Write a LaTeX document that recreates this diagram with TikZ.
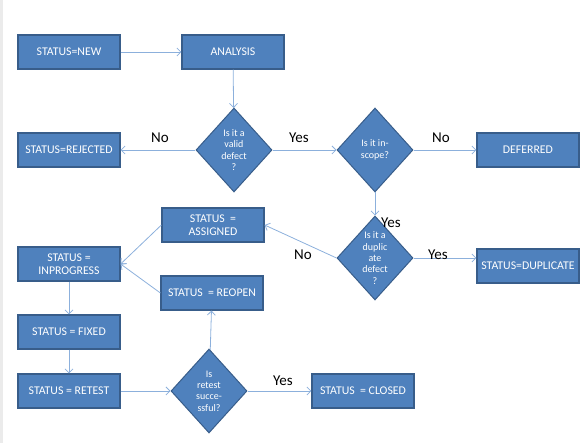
\documentclass[tikz,border=0pt]{standalone}
\usepackage{fontspec}
\setmainfont{Carlito}
\usetikzlibrary{shapes.geometric,arrows.meta}
\definecolor{boxfill}{RGB}{79,129,189}
\definecolor{boxline}{RGB}{56,93,138}
\definecolor{flowline}{RGB}{140,176,220}
\tikzset{
	statusbox/.style={draw=boxline, fill=boxfill, line width=1.2pt, minimum width=102pt, minimum height=34pt, text=white, font=\fontsize{11.8}{13.5}\selectfont, align=center, inner sep=1pt},
	decision/.style={diamond, draw=boxline, fill=boxfill, line width=1pt, minimum width=76pt, minimum height=84pt, inner sep=-5pt, text=white, font=\fontsize{10}{11.3}\selectfont, align=center},
	flow/.style={draw=flowline, line width=0.8pt, -{Straight Barb[length=4pt,width=8pt]}},
	lbl/.style={font=\fontsize{15}{17}\selectfont}
}
\begin{document}
\begin{tikzpicture}[x=1pt, y=-1pt]
\useasboundingbox (0, 0) rectangle (587, 443);
\fill[black!8] (0, 0) rectangle (2.5, 443);

\node[statusbox] (new) at (69, 52) {STATUS=NEW};
\node[statusbox] (analysis) at (233, 52) {ANALYSIS};
\node[decision] (valid) at (234, 150) {Is it a\\valid\\defect\\?};
\node[statusbox] (rejected) at (69, 150) {STATUS=REJECTED};
\node[decision] (scope) at (375, 150) {Is it in-\\scope?};
\node[statusbox] (deferred) at (528, 150) {DEFERRED};
\node[decision] (dup) at (375, 258) {Is it a\\duplic\\ate\\defect\\?};
\node[statusbox] (duplicate) at (528, 266) {STATUS=DUPLICATE};
\node[statusbox] (assigned) at (213, 225) {STATUS \ =\\ASSIGNED};
\node[statusbox] (inprog) at (69, 264) {STATUS =\\INPROGRESS};
\node[statusbox] (reopen) at (212, 293) {STATUS \ = REOPEN};
\node[statusbox] (fixed) at (69, 332) {STATUS = FIXED};
\node[statusbox] (retest) at (69, 391) {STATUS = RETEST};
\node[decision] (retestq) at (209, 391) {Is\\retest\\succe-\\ssful?};
\node[statusbox] (closed) at (363, 391) {STATUS \ = CLOSED};

\draw[flow] (new) -- (analysis);
\draw[flow] (analysis) -- (valid);
\draw[flow] (valid) -- (rejected);
\draw[flow] (valid) -- (scope);
\draw[flow] (scope) -- (deferred);
\draw[flow] (scope) -- (dup);
\draw[flow] (dup.east) -- (duplicate.west |- dup.east);
\draw[flow] (dup.west) -- (assigned.east);
\draw[flow] (assigned.west) -- (inprog.east);
\draw[flow] (reopen.west) -- (inprog.east);
\draw[flow] (inprog) -- (fixed);
\draw[flow] (fixed) -- (retest);
\draw[flow] (retest) -- (retestq);
\draw[flow] (retestq) -- (reopen);
\draw[flow] (retestq) -- (closed);

\node[lbl] (no1) at (160, 138) {No};
\node[lbl] (yes1) at (299, 138) {Yes};
\node[lbl] (no2) at (441, 138) {No};
\node[lbl] (yes2) at (391, 223) {Yes};
\node[lbl] (no3) at (303, 255) {No};
\node[lbl] (yes3) at (438, 255) {Yes};
\node[lbl] (yes4) at (283, 381) {Yes};

\end{tikzpicture}
\end{document}
